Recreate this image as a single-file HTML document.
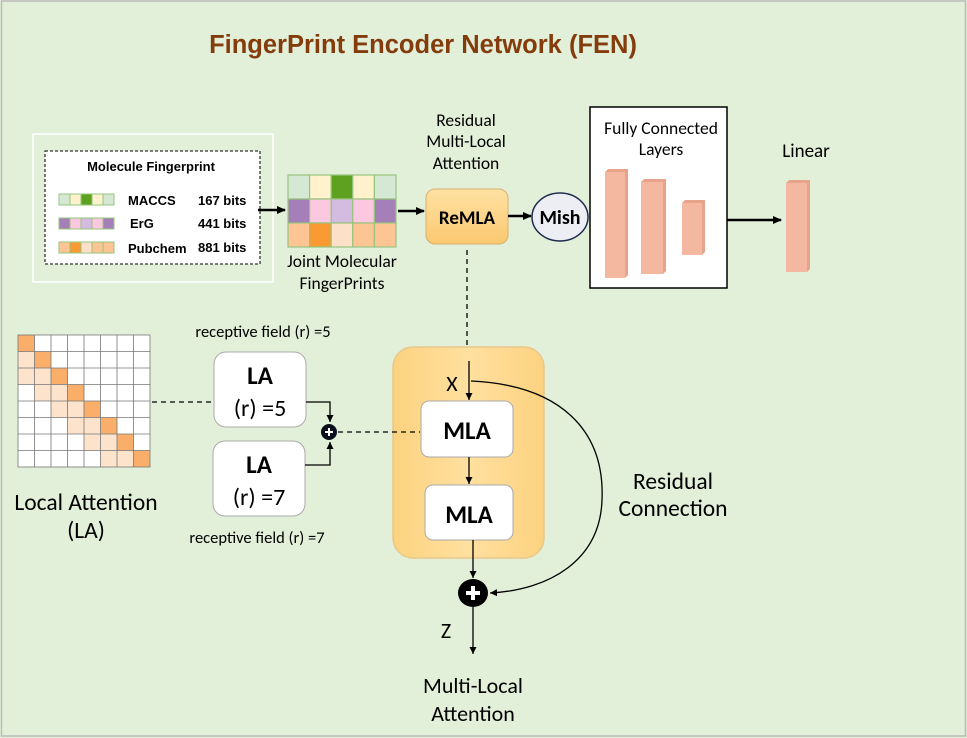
<!DOCTYPE html>
<html><head><meta charset="utf-8"><style>
html,body{margin:0;padding:0;background:#e2f0d9;}
svg{display:block;font-family:"Liberation Sans",Calibri,sans-serif;}
.c{font-family:"Carlito","Liberation Sans",sans-serif;}
</style></head><body>
<svg width="967" height="738" viewBox="0 0 967 738" xmlns="http://www.w3.org/2000/svg">
<defs>
<marker id="ah" markerWidth="10" markerHeight="10" refX="8" refY="5" orient="auto" markerUnits="userSpaceOnUse"><path d="M0,1 L9,5 L0,9 z" fill="#000"/></marker>
<marker id="ahs" markerWidth="8" markerHeight="8" refX="7" refY="4" orient="auto" markerUnits="userSpaceOnUse"><path d="M0,0.5 L7,4 L0,7.5 z" fill="#000"/></marker>
<linearGradient id="og" x1="0" y1="0" x2="0" y2="1"><stop offset="0" stop-color="#ffe2a3"/><stop offset="1" stop-color="#fbc870"/></linearGradient>
<linearGradient id="og2" x1="0" y1="0" x2="1" y2="0"><stop offset="0" stop-color="#fcd27f"/><stop offset="0.5" stop-color="#ffe0a0"/><stop offset="1" stop-color="#fcd27f"/></linearGradient>
</defs>
<rect x="1.5" y="1" width="964" height="735" fill="#e2f0d9" stroke="#bbb" stroke-width="1.5"/>
<text x="423" y="53" text-anchor="middle" font-size="25.5" font-weight="bold" fill="#843c0c">FingerPrint Encoder Network (FEN)</text>

<rect x="33" y="134" width="240" height="148" fill="none" stroke="#fff" stroke-width="1.5"/>
<rect x="45" y="151" width="215" height="113" fill="#fff" stroke="#333" stroke-width="1.3" stroke-dasharray="3,2"/>
<text x="151" y="171" text-anchor="middle" font-size="13" font-weight="bold">Molecule Fingerprint</text>
<g stroke="#97c47e" stroke-width="1">
<rect x="59" y="194" width="11" height="11" fill="#d5e8d4"/><rect x="70" y="194" width="11" height="11" fill="#fff2cc"/><rect x="81" y="194" width="11" height="11" fill="#5ea121"/><rect x="92" y="194" width="11" height="11" fill="#fff2cc"/><rect x="103" y="194" width="11" height="11" fill="#d5e8d4"/>
<rect x="59" y="218" width="11" height="11" fill="#a580b8"/><rect x="70" y="218" width="11" height="11" fill="#fcc8e0"/><rect x="81" y="218" width="11" height="11" fill="#d4bbe0"/><rect x="92" y="218" width="11" height="11" fill="#fcc8e0"/><rect x="103" y="218" width="11" height="11" fill="#a580b8"/>
<rect x="59" y="242" width="11" height="11" fill="#fdc594"/><rect x="70" y="242" width="11" height="11" fill="#f99a32"/><rect x="81" y="242" width="11" height="11" fill="#fde0c8"/><rect x="92" y="242" width="11" height="11" fill="#fdc594"/><rect x="103" y="242" width="11" height="11" fill="#fdc594"/>
</g>
<g font-size="13" font-weight="bold">
<text x="128" y="205">MACCS</text><text x="198" y="205">167 bits</text>
<text x="130" y="228">ErG</text><text x="198" y="228">441 bits</text>
<text x="128" y="253">Pubchem</text><text x="198" y="252">881 bits</text>
</g>
<line x1="258" y1="210" x2="285" y2="210" stroke="#000" stroke-width="2.5" marker-end="url(#ah)"/>

<g stroke="#97c47e" stroke-width="1.2">
<rect x="288" y="175" width="21.6" height="24" fill="#d5e8d4"/><rect x="309.6" y="175" width="21.6" height="24" fill="#fff2cc"/><rect x="331.2" y="175" width="21.6" height="24" fill="#5ea121"/><rect x="352.8" y="175" width="21.6" height="24" fill="#fff2cc"/><rect x="374.4" y="175" width="21.6" height="24" fill="#d5e8d4"/>
<rect x="288" y="199" width="21.6" height="24" fill="#a580b8"/><rect x="309.6" y="199" width="21.6" height="24" fill="#fcc8e0"/><rect x="331.2" y="199" width="21.6" height="24" fill="#d4bbe0"/><rect x="352.8" y="199" width="21.6" height="24" fill="#fcc8e0"/><rect x="374.4" y="199" width="21.6" height="24" fill="#a580b8"/>
<rect x="288" y="223" width="21.6" height="24" fill="#fdc594"/><rect x="309.6" y="223" width="21.6" height="24" fill="#f99a32"/><rect x="331.2" y="223" width="21.6" height="24" fill="#fde0c8"/><rect x="352.8" y="223" width="21.6" height="24" fill="#fdc594"/><rect x="374.4" y="223" width="21.6" height="24" fill="#fdc594"/>
</g>
<g font-size="17.5" text-anchor="middle" class="c">
<text x="342" y="267">Joint Molecular</text><text x="342" y="289">FingerPrints</text>
<text x="466" y="126">Residual</text><text x="466" y="147">Multi-Local</text><text x="466" y="169">Attention</text>
</g>
<line x1="398" y1="211" x2="424" y2="211" stroke="#000" stroke-width="2.5" marker-end="url(#ah)"/>
<rect x="426" y="189" width="82" height="55" rx="9" fill="url(#og)" stroke="#d8b070" stroke-width="1"/>
<text x="467" y="224" text-anchor="middle" font-size="19" font-weight="bold" class="c">ReMLA</text>
<line x1="508" y1="216" x2="531" y2="216" stroke="#000" stroke-width="2.5" marker-end="url(#ah)"/>
<ellipse cx="560" cy="217" rx="28" ry="24" fill="#eceef4" stroke="#1f2d50" stroke-width="1.5"/>
<text x="560" y="224" text-anchor="middle" font-size="20" font-weight="bold" class="c">Mish</text>

<rect x="590" y="107" width="137" height="181" fill="#fff" stroke="#000" stroke-width="1.5"/>
<text x="661" y="134" text-anchor="middle" font-size="17.5" class="c">Fully Connected</text>
<text x="661" y="155" text-anchor="middle" font-size="17.5" class="c">Layers</text>
<g fill="#f4b8a0">
<rect x="605" y="172" width="20" height="106"/><path d="M605,172 l3,-3 h20 l-3,3 z M625,172 l3,-3 v106 l-3,3 z" fill="#e8a48a"/>
<rect x="641" y="182" width="22" height="92"/><path d="M641,182 l3,-3 h22 l-3,3 z M663,182 l3,-3 v92 l-3,3 z" fill="#e8a48a"/>
<rect x="682" y="203" width="20" height="52"/><path d="M682,203 l3,-3 h20 l-3,3 z M702,203 l3,-3 v52 l-3,3 z" fill="#e8a48a"/>
<rect x="786" y="183" width="21" height="89"/><path d="M786,183 l3,-3 h21 l-3,3 z M807,183 l3,-3 v89 l-3,3 z" fill="#e8a48a"/>
</g>
<line x1="727" y1="220" x2="781" y2="220" stroke="#000" stroke-width="2.5" marker-end="url(#ah)"/>
<text x="806" y="157" text-anchor="middle" font-size="19" class="c">Linear</text>

<line x1="467" y1="250" x2="467" y2="345" stroke="#000" stroke-width="1.3" stroke-dasharray="5,4"/>

<rect x="393" y="347" width="151" height="211" rx="20" fill="url(#og2)" stroke="#e8c88a" stroke-width="1.5"/>
<line x1="469" y1="361" x2="469" y2="400" stroke="#000" stroke-width="1.3" marker-end="url(#ahs)"/>
<text x="452" y="391" text-anchor="middle" font-size="22" class="c">X</text>
<rect x="421" y="401" width="92" height="56" rx="8" fill="#fff" stroke="#aaa"/>
<text x="467" y="439" text-anchor="middle" font-size="25" font-weight="bold" class="c">MLA</text>
<line x1="469" y1="457" x2="469" y2="484" stroke="#000" stroke-width="1.3" marker-end="url(#ahs)"/>
<rect x="425" y="485" width="88" height="55" rx="8" fill="#fff" stroke="#aaa"/>
<text x="469" y="523" text-anchor="middle" font-size="25" font-weight="bold" class="c">MLA</text>
<line x1="473" y1="540" x2="473" y2="578" stroke="#000" stroke-width="1.3" marker-end="url(#ahs)"/>
<path d="M471,381 C560,385 605,430 602,500 C600,560 550,590 490,593" fill="none" stroke="#000" stroke-width="1.3" marker-end="url(#ahs)"/>
<ellipse cx="473" cy="593" rx="15" ry="14" fill="#000"/>
<path d="M466,593 h14 M473,586 v14" stroke="#fff" stroke-width="4"/>
<line x1="473" y1="607" x2="473" y2="654" stroke="#000" stroke-width="1.3" marker-end="url(#ahs)"/>
<g class="c" text-anchor="middle">
<text x="446" y="638" font-size="22">Z</text>
<text x="473" y="693" font-size="22">Multi-Local</text>
<text x="473" y="721" font-size="22">Attention</text>
<text x="673" y="489" font-size="23.5">Residual</text>
<text x="673" y="516" font-size="23.5">Connection</text>
<text x="86" y="510" font-size="23.5">Local Attention</text>
<text x="86" y="538" font-size="23.5">(LA)</text>
<text x="263" y="337" font-size="16.5">receptive field (r) =5</text>
<text x="257" y="543" font-size="16.5">receptive field (r) =7</text>
</g>

<rect x="214" y="352" width="92" height="75" rx="12" fill="#fff" stroke="#aaa"/>
<text x="260" y="384" text-anchor="middle" font-size="25" font-weight="bold" class="c">LA</text>
<text x="260" y="416" text-anchor="middle" font-size="24" class="c">(r) =5</text>
<rect x="213" y="441" width="92" height="75" rx="12" fill="#fff" stroke="#aaa"/>
<text x="259" y="473" text-anchor="middle" font-size="25" font-weight="bold" class="c">LA</text>
<text x="259" y="505" text-anchor="middle" font-size="24" class="c">(r) =7</text>
<path d="M306,402 H330 V422" fill="none" stroke="#000" stroke-width="1.3" marker-end="url(#ahs)"/>
<path d="M305,465 H330 V442" fill="none" stroke="#000" stroke-width="1.3" marker-end="url(#ahs)"/>
<circle cx="329" cy="432" r="8" fill="#0a0f1e"/>
<path d="M325,432 h8 M329,428 v8" stroke="#fff" stroke-width="2"/>
<line x1="338" y1="432" x2="420" y2="432" stroke="#000" stroke-width="1.3" stroke-dasharray="5,4"/>
<line x1="152" y1="402" x2="213" y2="402" stroke="#000" stroke-width="1.3" stroke-dasharray="5,4"/>

<rect x="18" y="335" width="132" height="132" fill="#fff"/>
<g>
<rect x="18" y="335" width="16.5" height="16.5" fill="#f9ae6a"/>
<rect x="34.5" y="351.5" width="16.5" height="16.5" fill="#f9ae6a"/>
<rect x="51" y="368" width="16.5" height="16.5" fill="#f9ae6a"/>
<rect x="67.5" y="384.5" width="16.5" height="16.5" fill="#f9ae6a"/>
<rect x="84" y="401" width="16.5" height="16.5" fill="#f9ae6a"/>
<rect x="100.5" y="417.5" width="16.5" height="16.5" fill="#f9ae6a"/>
<rect x="117" y="434" width="16.5" height="16.5" fill="#f9ae6a"/>
<rect x="133.5" y="450.5" width="16.5" height="16.5" fill="#f9ae6a"/>
<g fill="#fde3cc">
<rect x="18" y="351.5" width="16.5" height="16.5"/>
<rect x="18" y="368" width="33" height="16.5"/>
<rect x="34.5" y="384.5" width="33" height="16.5"/>
<rect x="51" y="401" width="33" height="16.5"/>
<rect x="67.5" y="417.5" width="33" height="16.5"/>
<rect x="84" y="434" width="33" height="16.5"/>
<rect x="100.5" y="450.5" width="33" height="16.5"/>
</g>
</g>
<g stroke="#777" stroke-width="0.8">
<path d="M34.5,335V467M51,335V467M67.5,335V467M84,335V467M100.5,335V467M117,335V467M133.5,335V467M18,351.5H150M18,368H150M18,384.5H150M18,401H150M18,417.5H150M18,434H150M18,450.5H150"/>
<rect x="18" y="335" width="132" height="132" fill="none"/>
</g>
</svg>
</body></html>
